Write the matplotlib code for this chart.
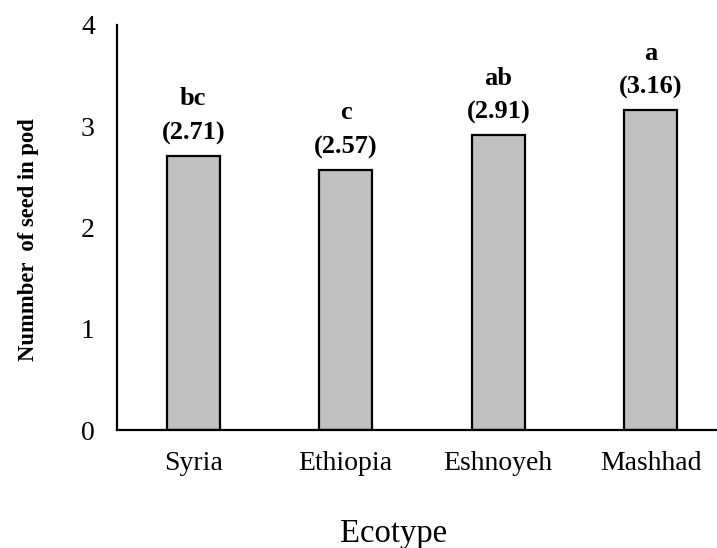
import matplotlib
matplotlib.use("Agg")
import matplotlib.pyplot as plt

plt.rcParams['font.family'] = ['Liberation Serif', 'DejaVu Serif']

ecotypes = ["Syria", "Ethiopia", "Eshnoyeh", "Mashhad"]
seeds = [2.71, 2.57, 2.91, 3.16]
letters = ["bc", "c", "ab", "a"]

fig = plt.figure(figsize=(7.17, 5.48), dpi=100)
ax = fig.add_axes([117 / 717, 118 / 548, 610 / 717, 405 / 548])

x = range(len(ecotypes))
ax.bar(x, seeds, width=0.35, color="#c0c0c0", edgecolor="black", linewidth=1.6)

for i, (v, l) in enumerate(zip(seeds, letters)):
    ax.annotate(f"{l}\n({v:.2f})", (i, v), xytext=(0, 8), textcoords="offset points",
                ha="center", va="bottom", fontsize=19, fontweight="bold",
                linespacing=1.6)

ax.set_xlim(-0.5, 3.5)
ax.set_ylim(0, 4)
ax.set_yticks([0, 1, 2, 3, 4])
ax.set_xticks(list(x))
ax.set_xticklabels(ecotypes)
ax.tick_params(axis="both", length=0, labelsize=20)
ax.tick_params(axis="y", pad=16)
ax.tick_params(axis="x", pad=15)

for s in ["top", "right"]:
    ax.spines[s].set_visible(False)
for s in ["left", "bottom"]:
    ax.spines[s].set_linewidth(1.6)

fig.text(29 / 717, 1 - 240 / 548, "Nummber  of seed in pod", rotation=90,
         ha="center", va="center", fontsize=16.3, fontweight="bold")
fig.text(394 / 717, 1 - 534 / 548, "Ecotype", ha="center", va="center", fontsize=23.5)

fig.savefig("out.png", dpi=100)
